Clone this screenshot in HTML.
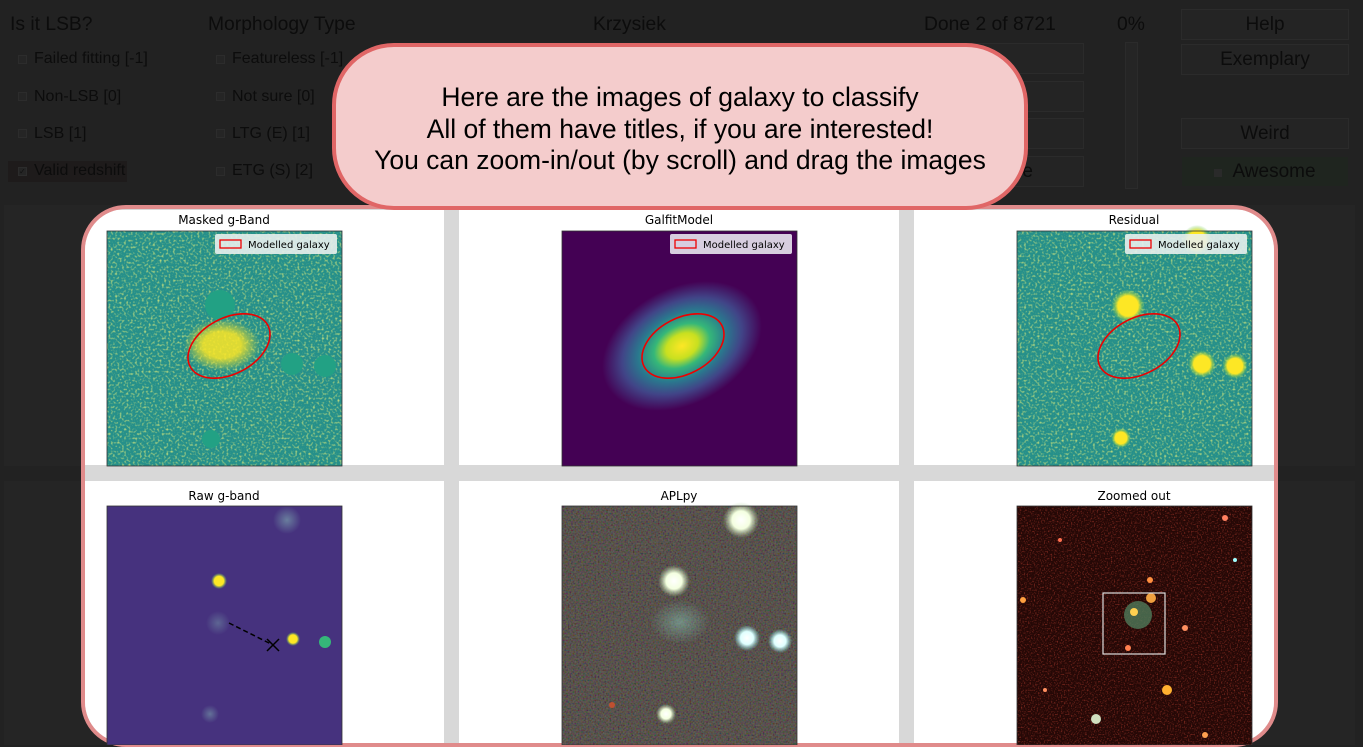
<!DOCTYPE html>
<html><head><meta charset="utf-8"><style>
*{box-sizing:border-box;margin:0;padding:0}
body{width:1363px;height:745px;background:#222;position:relative;overflow:hidden;font-family:"Liberation Sans",sans-serif;color:#0c0c0c}
.a{position:absolute}
.lbl{font-size:19.3px}
.cb{position:absolute;width:9px;height:9px;background:#252525;border:1px solid #2c2c2c}
.btn{position:absolute;background:#242424;border:1px solid #2b2b2b;font-size:19px;text-align:center;line-height:29px;color:#0c0c0c}
.panel{position:absolute;background:#fff}
svg{position:absolute}
</style></head><body>
<div class="a lbl" style="left:10px;top:14px">Is it LSB?</div>
<div class="a lbl" style="left:208px;top:14px">Morphology Type</div>
<div class="a lbl" style="left:593px;top:14px">Krzysiek</div>
<div class="a lbl" style="left:924px;top:14px">Done 2 of 8721</div>
<div class="a lbl" style="left:1117px;top:14px">0%</div>

<div class="cb" style="left:18px;top:55px"></div><div class="a" style="left:34px;top:50px;font-size:16px">Failed fitting [-1]</div>
<div class="cb" style="left:18px;top:92px"></div><div class="a" style="left:34px;top:88px;font-size:16px">Non-LSB [0]</div>
<div class="cb" style="left:18px;top:129px"></div><div class="a" style="left:34px;top:125px;font-size:16px">LSB [1]</div>
<div class="a" style="left:8px;top:161px;width:119px;height:21px;background:#1e1b1b"></div>
<div class="cb" style="left:18px;top:167px;font-size:8px;line-height:7px;color:#111">✓</div><div class="a" style="left:34px;top:162px;font-size:16px">Valid redshift</div>
<div class="cb" style="left:216px;top:55px"></div><div class="a" style="left:232px;top:50px;font-size:16px">Featureless [-1]</div>
<div class="cb" style="left:216px;top:92px"></div><div class="a" style="left:232px;top:88px;font-size:16px">Not sure [0]</div>
<div class="cb" style="left:216px;top:129px"></div><div class="a" style="left:232px;top:125px;font-size:16px">LTG (E) [1]</div>
<div class="cb" style="left:216px;top:167px"></div><div class="a" style="left:232px;top:162px;font-size:16px">ETG (S) [2]</div>

<div class="btn" style="left:950px;top:43px;width:134px;height:31px"></div>
<div class="btn" style="left:950px;top:81px;width:134px;height:31px"></div>
<div class="btn" style="left:950px;top:118px;width:134px;height:31px"></div>
<div class="btn" style="left:950px;top:156px;width:134px;height:31px;text-align:right;padding-right:50px">e</div>
<div class="a" style="left:1125px;top:42px;width:13px;height:147px;background:#252525;border:1px solid #2b2b2b"></div>
<div class="btn" style="left:1181px;top:9px;width:168px;height:31px">Help</div>
<div class="btn" style="left:1181px;top:44px;width:168px;height:31px">Exemplary</div>
<div class="btn" style="left:1181px;top:118px;width:168px;height:31px">Weird</div>
<div class="btn" style="left:1181px;top:156px;width:168px;height:31px;background:#1f251f;border-color:#222"><span style="display:inline-block;width:8px;height:8px;background:#2a2a2a;margin-right:10px"></span>Awesome</div>

<div class="a" style="left:4px;top:205px;width:1351px;height:261px;background:#252525"></div>
<div class="a" style="left:4px;top:481px;width:1351px;height:264px;background:#252525"></div>

<div class="a" style="left:81px;top:205px;width:1197px;height:542px;border:4px solid #e08b8b;border-radius:45px;background:#d8d8d8;overflow:hidden">
 <div class="panel" style="left:0;top:1px;width:359px;height:255px"></div>
 <div class="panel" style="left:374px;top:1px;width:440px;height:255px"></div>
 <div class="panel" style="left:829px;top:1px;width:360px;height:255px"></div>
 <div class="panel" style="left:0;top:272px;width:359px;height:270px"></div>
 <div class="panel" style="left:374px;top:272px;width:440px;height:270px"></div>
 <div class="panel" style="left:829px;top:272px;width:360px;height:270px"></div>
</div>

<svg width="1363" height="745" style="left:0;top:0">
<defs>
 <filter id="nz" x="0" y="0" width="100%" height="100%"><feTurbulence type="fractalNoise" baseFrequency="0.45" numOctaves="1" seed="3"/><feColorMatrix type="matrix" values="0 0 0 0 0.75  0 0 0 0 0.85  0 0 0 0 0.2  0 0 0 2.4 -1.2"/></filter>
 <filter id="nz2" x="0" y="0" width="100%" height="100%"><feTurbulence type="fractalNoise" baseFrequency="0.6" numOctaves="1" seed="7"/><feColorMatrix type="matrix" values="1.2 0 0 0 -0.3  0 1.2 0 0 -0.3  0 0 1.2 0 -0.3  0 0 0 0 0.3"/></filter>
 <filter id="nz3" x="0" y="0" width="100%" height="100%"><feTurbulence type="fractalNoise" baseFrequency="0.7" numOctaves="1" seed="11"/><feColorMatrix type="matrix" values="0 0 0 0 0.5  0 0 0 0 0.05  0 0 0 0 0.03  0 0 0 2 -1"/></filter>
 <radialGradient id="yel"><stop offset="0" stop-color="#fde725"/><stop offset="0.5" stop-color="#fde725"/><stop offset="1" stop-color="#fde725" stop-opacity="0"/></radialGradient>
 <radialGradient id="gal"><stop offset="0" stop-color="#fde725"/><stop offset="0.2" stop-color="#c8e020"/><stop offset="0.35" stop-color="#35b779"/><stop offset="0.55" stop-color="#2a788e"/><stop offset="0.75" stop-color="#414487"/><stop offset="1" stop-color="#440154"/></radialGradient>
 <radialGradient id="wst"><stop offset="0" stop-color="#fff"/><stop offset="0.5" stop-color="#f4ffe0"/><stop offset="1" stop-color="#b0d0a0" stop-opacity="0"/></radialGradient>
 <radialGradient id="cst"><stop offset="0" stop-color="#fff"/><stop offset="0.5" stop-color="#dfffff"/><stop offset="1" stop-color="#80e0e0" stop-opacity="0"/></radialGradient>
 <radialGradient id="ydot"><stop offset="0" stop-color="#fde725"/><stop offset="0.6" stop-color="#fde725"/><stop offset="1" stop-color="#5ec962" stop-opacity="0"/></radialGradient>
 <radialGradient id="glow"><stop offset="0" stop-color="#8fd0c0" stop-opacity="0.8"/><stop offset="1" stop-color="#8fd0c0" stop-opacity="0"/></radialGradient>
</defs>
<text x="224" y="224" font-family="DejaVu Sans" font-size="12" text-anchor="middle">Masked g-Band</text>
<text x="679" y="224" font-family="DejaVu Sans" font-size="12" text-anchor="middle">GalfitModel</text>
<text x="1134" y="224" font-family="DejaVu Sans" font-size="12" text-anchor="middle">Residual</text>
<text x="224" y="500" font-family="DejaVu Sans" font-size="12" text-anchor="middle">Raw g-band</text>
<text x="679" y="500" font-family="DejaVu Sans" font-size="12" text-anchor="middle">APLpy</text>
<text x="1134" y="500" font-family="DejaVu Sans" font-size="12" text-anchor="middle">Zoomed out</text>

<g>
<rect x="107" y="231" width="235" height="235" fill="#26908a"/>
<rect x="107" y="231" width="235" height="235" filter="url(#nz)"/>
<ellipse cx="222" cy="345" rx="38" ry="26" fill="url(#yel)" opacity="0.85"/>
<circle cx="220" cy="305" r="15" fill="#22a184"/><circle cx="292" cy="364" r="11" fill="#22a184"/><circle cx="325" cy="366" r="11" fill="#22a184"/><circle cx="211" cy="439" r="9" fill="#22a184"/>
<ellipse cx="229" cy="346" rx="44" ry="28" transform="rotate(-28 229 346)" fill="none" stroke="#e00" stroke-width="1.6"/>
<rect x="107" y="231" width="235" height="235" fill="none" stroke="#333" stroke-width="0.8"/>
<rect x="215" y="234" width="122" height="20" rx="2" fill="#e8efed" opacity="0.9"/><rect x="220" y="240" width="21" height="8" fill="none" stroke="#e00" stroke-width="1.3"/><text x="248" y="248" font-family="DejaVu Sans" font-size="10">Modelled galaxy</text>
</g>
<g>
<rect x="562" y="231" width="235" height="235" fill="#440154"/>
<ellipse cx="682" cy="346" rx="85" ry="58" transform="rotate(-28 682 346)" fill="url(#gal)"/>
<ellipse cx="683" cy="346" rx="44" ry="28" transform="rotate(-28 683 346)" fill="none" stroke="#e00" stroke-width="1.6"/>
<rect x="562" y="231" width="235" height="235" fill="none" stroke="#333" stroke-width="0.8"/>
<rect x="670" y="234" width="122" height="20" rx="2" fill="#e8e4ee" opacity="0.9"/><rect x="675" y="240" width="21" height="8" fill="none" stroke="#e00" stroke-width="1.3"/><text x="703" y="248" font-family="DejaVu Sans" font-size="10">Modelled galaxy</text>
</g>
<g>
<rect x="1017" y="231" width="235" height="235" fill="#26908a"/>
<rect x="1017" y="231" width="235" height="235" filter="url(#nz)"/>
<circle cx="1128" cy="306" r="17" fill="url(#ydot)"/><circle cx="1202" cy="364" r="14" fill="url(#ydot)"/><circle cx="1235" cy="366" r="13" fill="url(#ydot)"/><circle cx="1197" cy="240" r="15" fill="url(#ydot)"/><circle cx="1121" cy="438" r="10" fill="url(#ydot)"/>
<ellipse cx="1139" cy="346" rx="44" ry="28" transform="rotate(-28 1139 346)" fill="none" stroke="#e00" stroke-width="1.6"/>
<rect x="1017" y="231" width="235" height="235" fill="none" stroke="#333" stroke-width="0.8"/>
<rect x="1125" y="234" width="122" height="20" rx="2" fill="#e8efed" opacity="0.9"/><rect x="1130" y="240" width="21" height="8" fill="none" stroke="#e00" stroke-width="1.3"/><text x="1158" y="248" font-family="DejaVu Sans" font-size="10">Modelled galaxy</text>
</g>
<g>
<rect x="107" y="506" width="235" height="239" fill="#46327e"/>
<circle cx="287" cy="520" r="14" fill="url(#glow)" opacity="0.6"/><circle cx="218" cy="623" r="12" fill="url(#glow)" opacity="0.4"/><circle cx="210" cy="714" r="9" fill="url(#glow)" opacity="0.5"/>
<circle cx="219" cy="581" r="8" fill="url(#ydot)"/><circle cx="293" cy="639" r="7" fill="url(#ydot)"/><circle cx="325" cy="642" r="6" fill="#35b779"/>
<line x1="229" y1="623" x2="273" y2="645" stroke="#000" stroke-width="1.5" stroke-dasharray="5,3"/>
<path d="M267 639 L279 651 M279 639 L267 651" stroke="#000" stroke-width="1.5"/>
<rect x="107" y="506" width="235" height="239" fill="none" stroke="#333" stroke-width="0.8"/>
</g>
<g>
<rect x="562" y="506" width="235" height="239" fill="#3f362f"/>
<rect x="562" y="506" width="235" height="239" filter="url(#nz2)"/>
<ellipse cx="680" cy="622" rx="30" ry="22" fill="url(#glow)" opacity="0.6"/>
<circle cx="741" cy="520" r="18" fill="url(#wst)"/><circle cx="674" cy="581" r="16" fill="url(#wst)"/><circle cx="747" cy="638" r="13" fill="url(#cst)"/><circle cx="780" cy="641" r="12" fill="url(#cst)"/><circle cx="666" cy="714" r="10" fill="url(#wst)"/><circle cx="612" cy="705" r="3" fill="#c05030"/>
<rect x="562" y="506" width="235" height="239" fill="none" stroke="#333" stroke-width="0.8"/>
</g>
<g>
<rect x="1017" y="506" width="235" height="239" fill="#250806"/>
<rect x="1017" y="506" width="235" height="239" filter="url(#nz3)"/>
<circle cx="1138" cy="615" r="14" fill="#4f7a5a" opacity="0.8"/><circle cx="1134" cy="612" r="4" fill="#ffd050"/><circle cx="1151" cy="598" r="5" fill="#f0a040"/>
<circle cx="1167" cy="690" r="5" fill="#ffb030"/><circle cx="1150" cy="580" r="3" fill="#ff9040"/><circle cx="1096" cy="719" r="5" fill="#d0e0c0"/><circle cx="1023" cy="600" r="3" fill="#ffa040"/><circle cx="1225" cy="518" r="3" fill="#ff8060"/><circle cx="1185" cy="628" r="3" fill="#ff9060"/><circle cx="1205" cy="735" r="3" fill="#ffa050"/><circle cx="1045" cy="690" r="2" fill="#ff9060"/><circle cx="1128" cy="648" r="3" fill="#ff8050"/><circle cx="1235" cy="560" r="2" fill="#a0ffff"/><circle cx="1060" cy="540" r="2" fill="#ff7050"/>
<rect x="1103" y="593" width="62" height="61" fill="none" stroke="#ddd" stroke-width="1.2"/>
<rect x="1017" y="506" width="235" height="239" fill="none" stroke="#333" stroke-width="0.8"/>
</g>
</svg>

<div class="a" style="left:332px;top:43px;width:696px;height:167px;background:#f4cccc;border:4px solid #e06666;border-radius:62px;font-size:26.5px;line-height:31.5px;text-align:center;padding-top:35px;color:#000">Here are the images of galaxy to classify<br>All of them have titles, if you are interested!<br>You can zoom-in/out (by scroll) and drag the images</div>
</body></html>
